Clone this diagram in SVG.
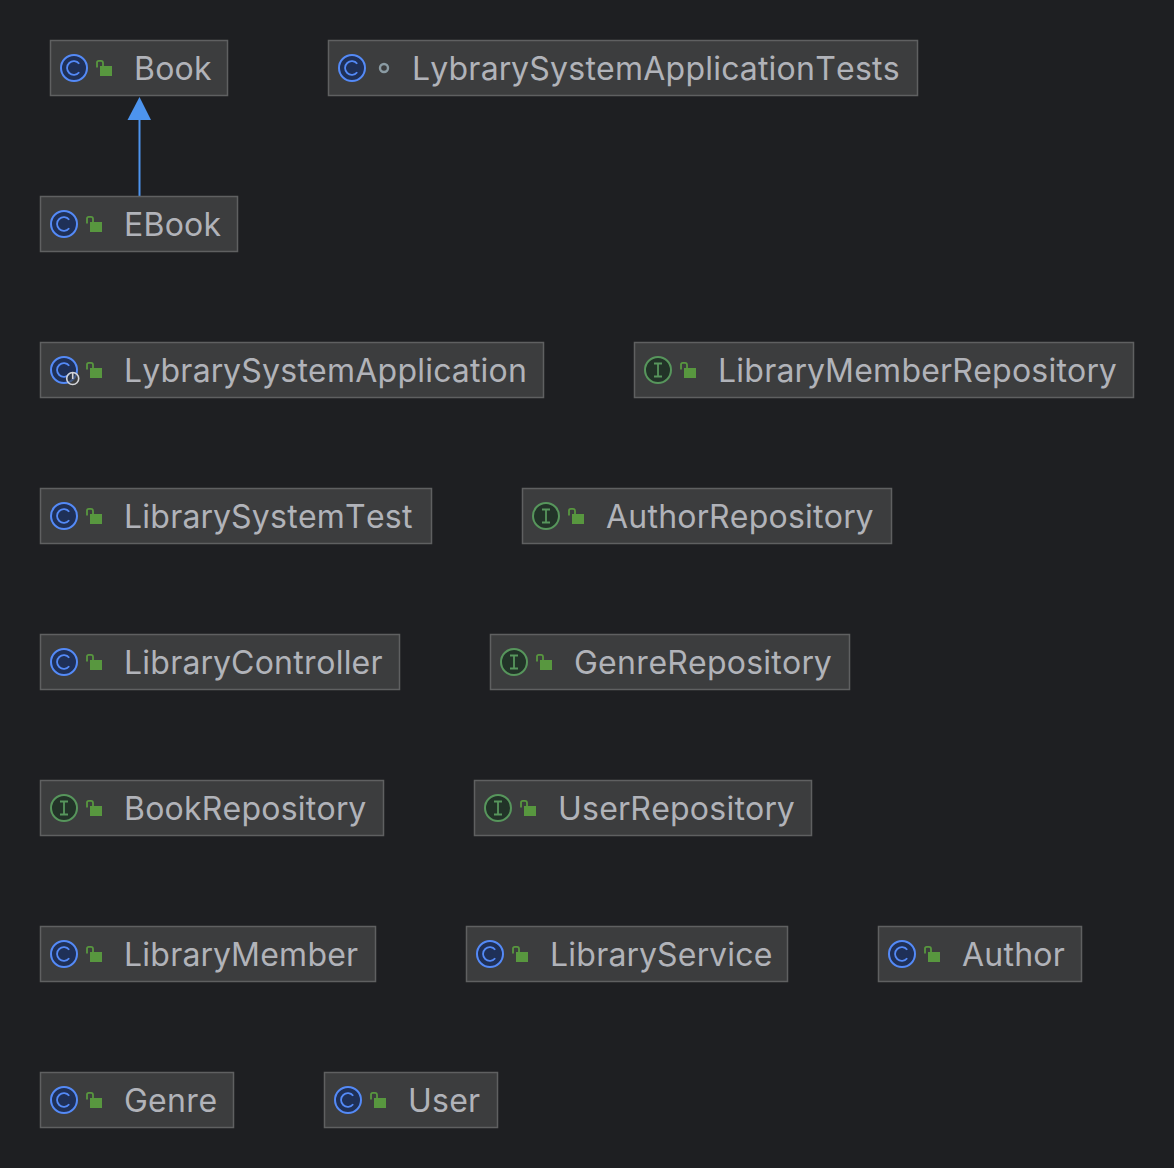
<svg xmlns="http://www.w3.org/2000/svg" width="1174" height="1168" viewBox="0 0 1174 1168">
<style>
.box{fill:#3c3d3e;stroke:#5f6061;stroke-width:1.5}
.t{font-family:Inter,"Liberation Sans",sans-serif;font-size:32px;fill:#b1b3b9;font-kerning:none;letter-spacing:0.23px}
.cc{fill:#1f3057;stroke:#548af7;stroke-width:2}
.cg{fill:none;stroke:#548af7;stroke-width:1.8}
.ic{fill:#223328;stroke:#57965c;stroke-width:2}
.ig{fill:none;stroke:#57965c;stroke-width:1.8}
.lb{fill:#58973f}
.ls{fill:none;stroke:#58973f;stroke-width:1.8}
</style>
<defs>
<g id="cls"><circle class="cc" cx="0" cy="0" r="13"/><path class="cg" d="M5.2 -4.2A6.8 6.8 0 1 0 5.2 4.2"/></g>
<g id="ifc"><circle class="ic" cx="0" cy="0" r="13"/><path class="ig" d="M-4 -6.5H4M-4 6.5H4M0 -6.5V6.5"/></g>
<g id="lock"><rect class="lb" x="26" y="-2" width="12" height="10"/><path class="ls" d="M23 -0.5V-5.5Q23 -7.2 24.8 -7.2H27Q29 -7.2 29 -5V-2"/></g>
</defs>
<rect width="1174" height="1168" fill="#1e1f22"/>
<g id="connectors">
<path d="M139.500 196V120" fill="none" stroke="#4d94ee" stroke-width="2"/>
<path d="M139.500 97L151 120H127.500Z" fill="#4d94ee"/>
</g>
<g id="Book"><rect class="box" x="50.500" y="40.500" width="177" height="55"/><use href="#cls" x="74" y="68"/><use href="#lock" x="74" y="68"/><text class="t" x="134" y="80">Book</text></g>
<g id="LybrarySystemApplicationTests"><rect class="box" x="328.500" y="40.500" width="589" height="55"/><use href="#cls" x="352" y="68"/><circle cx="384" cy="68" r="4" fill="none" stroke="#8a9ba3" stroke-width="2.400"/><text class="t" x="412" y="80">LybrarySystemApplicationTests</text></g>
<g id="EBook"><rect class="box" x="40.500" y="196.500" width="197" height="55"/><use href="#cls" x="64" y="224"/><use href="#lock" x="64" y="224"/><text class="t" x="124" y="236">EBook</text></g>
<g id="LybrarySystemApplication"><rect class="box" x="40.500" y="342.500" width="503" height="55"/><use href="#cls" x="64" y="370"/><circle cx="72.700" cy="378.500" r="6" fill="#3c3d3e" fill-opacity="0.6" stroke="#d4d6da" stroke-width="1.600"/><path d="M72.700 372V379" stroke="#d4d6da" stroke-width="1.600" fill="none"/><use href="#lock" x="64" y="370"/><text class="t" x="124" y="382">LybrarySystemApplication</text></g>
<g id="LibraryMemberRepository"><rect class="box" x="634.500" y="342.500" width="499" height="55"/><use href="#ifc" x="658" y="370"/><use href="#lock" x="658" y="370"/><text class="t" x="718" y="382">LibraryMemberRepository</text></g>
<g id="LibrarySystemTest"><rect class="box" x="40.500" y="488.500" width="391" height="55"/><use href="#cls" x="64" y="516"/><use href="#lock" x="64" y="516"/><text class="t" x="124" y="528">LibrarySystemTest</text></g>
<g id="AuthorRepository"><rect class="box" x="522.500" y="488.500" width="369" height="55"/><use href="#ifc" x="546" y="516"/><use href="#lock" x="546" y="516"/><text class="t" x="606" y="528">AuthorRepository</text></g>
<g id="LibraryController"><rect class="box" x="40.500" y="634.500" width="359" height="55"/><use href="#cls" x="64" y="662"/><use href="#lock" x="64" y="662"/><text class="t" x="124" y="674">LibraryController</text></g>
<g id="GenreRepository"><rect class="box" x="490.500" y="634.500" width="359" height="55"/><use href="#ifc" x="514" y="662"/><use href="#lock" x="514" y="662"/><text class="t" x="574" y="674">GenreRepository</text></g>
<g id="BookRepository"><rect class="box" x="40.500" y="780.500" width="343" height="55"/><use href="#ifc" x="64" y="808"/><use href="#lock" x="64" y="808"/><text class="t" x="124" y="820">BookRepository</text></g>
<g id="UserRepository"><rect class="box" x="474.500" y="780.500" width="337" height="55"/><use href="#ifc" x="498" y="808"/><use href="#lock" x="498" y="808"/><text class="t" x="558" y="820">UserRepository</text></g>
<g id="LibraryMember"><rect class="box" x="40.500" y="926.500" width="335" height="55"/><use href="#cls" x="64" y="954"/><use href="#lock" x="64" y="954"/><text class="t" x="124" y="966">LibraryMember</text></g>
<g id="LibraryService"><rect class="box" x="466.500" y="926.500" width="321" height="55"/><use href="#cls" x="490" y="954"/><use href="#lock" x="490" y="954"/><text class="t" x="550" y="966">LibraryService</text></g>
<g id="Author"><rect class="box" x="878.500" y="926.500" width="203" height="55"/><use href="#cls" x="902" y="954"/><use href="#lock" x="902" y="954"/><text class="t" x="962" y="966">Author</text></g>
<g id="Genre"><rect class="box" x="40.500" y="1072.500" width="193" height="55"/><use href="#cls" x="64" y="1100"/><use href="#lock" x="64" y="1100"/><text class="t" x="124" y="1112">Genre</text></g>
<g id="User"><rect class="box" x="324.500" y="1072.500" width="173" height="55"/><use href="#cls" x="348" y="1100"/><use href="#lock" x="348" y="1100"/><text class="t" x="408" y="1112">User</text></g>
</svg>
